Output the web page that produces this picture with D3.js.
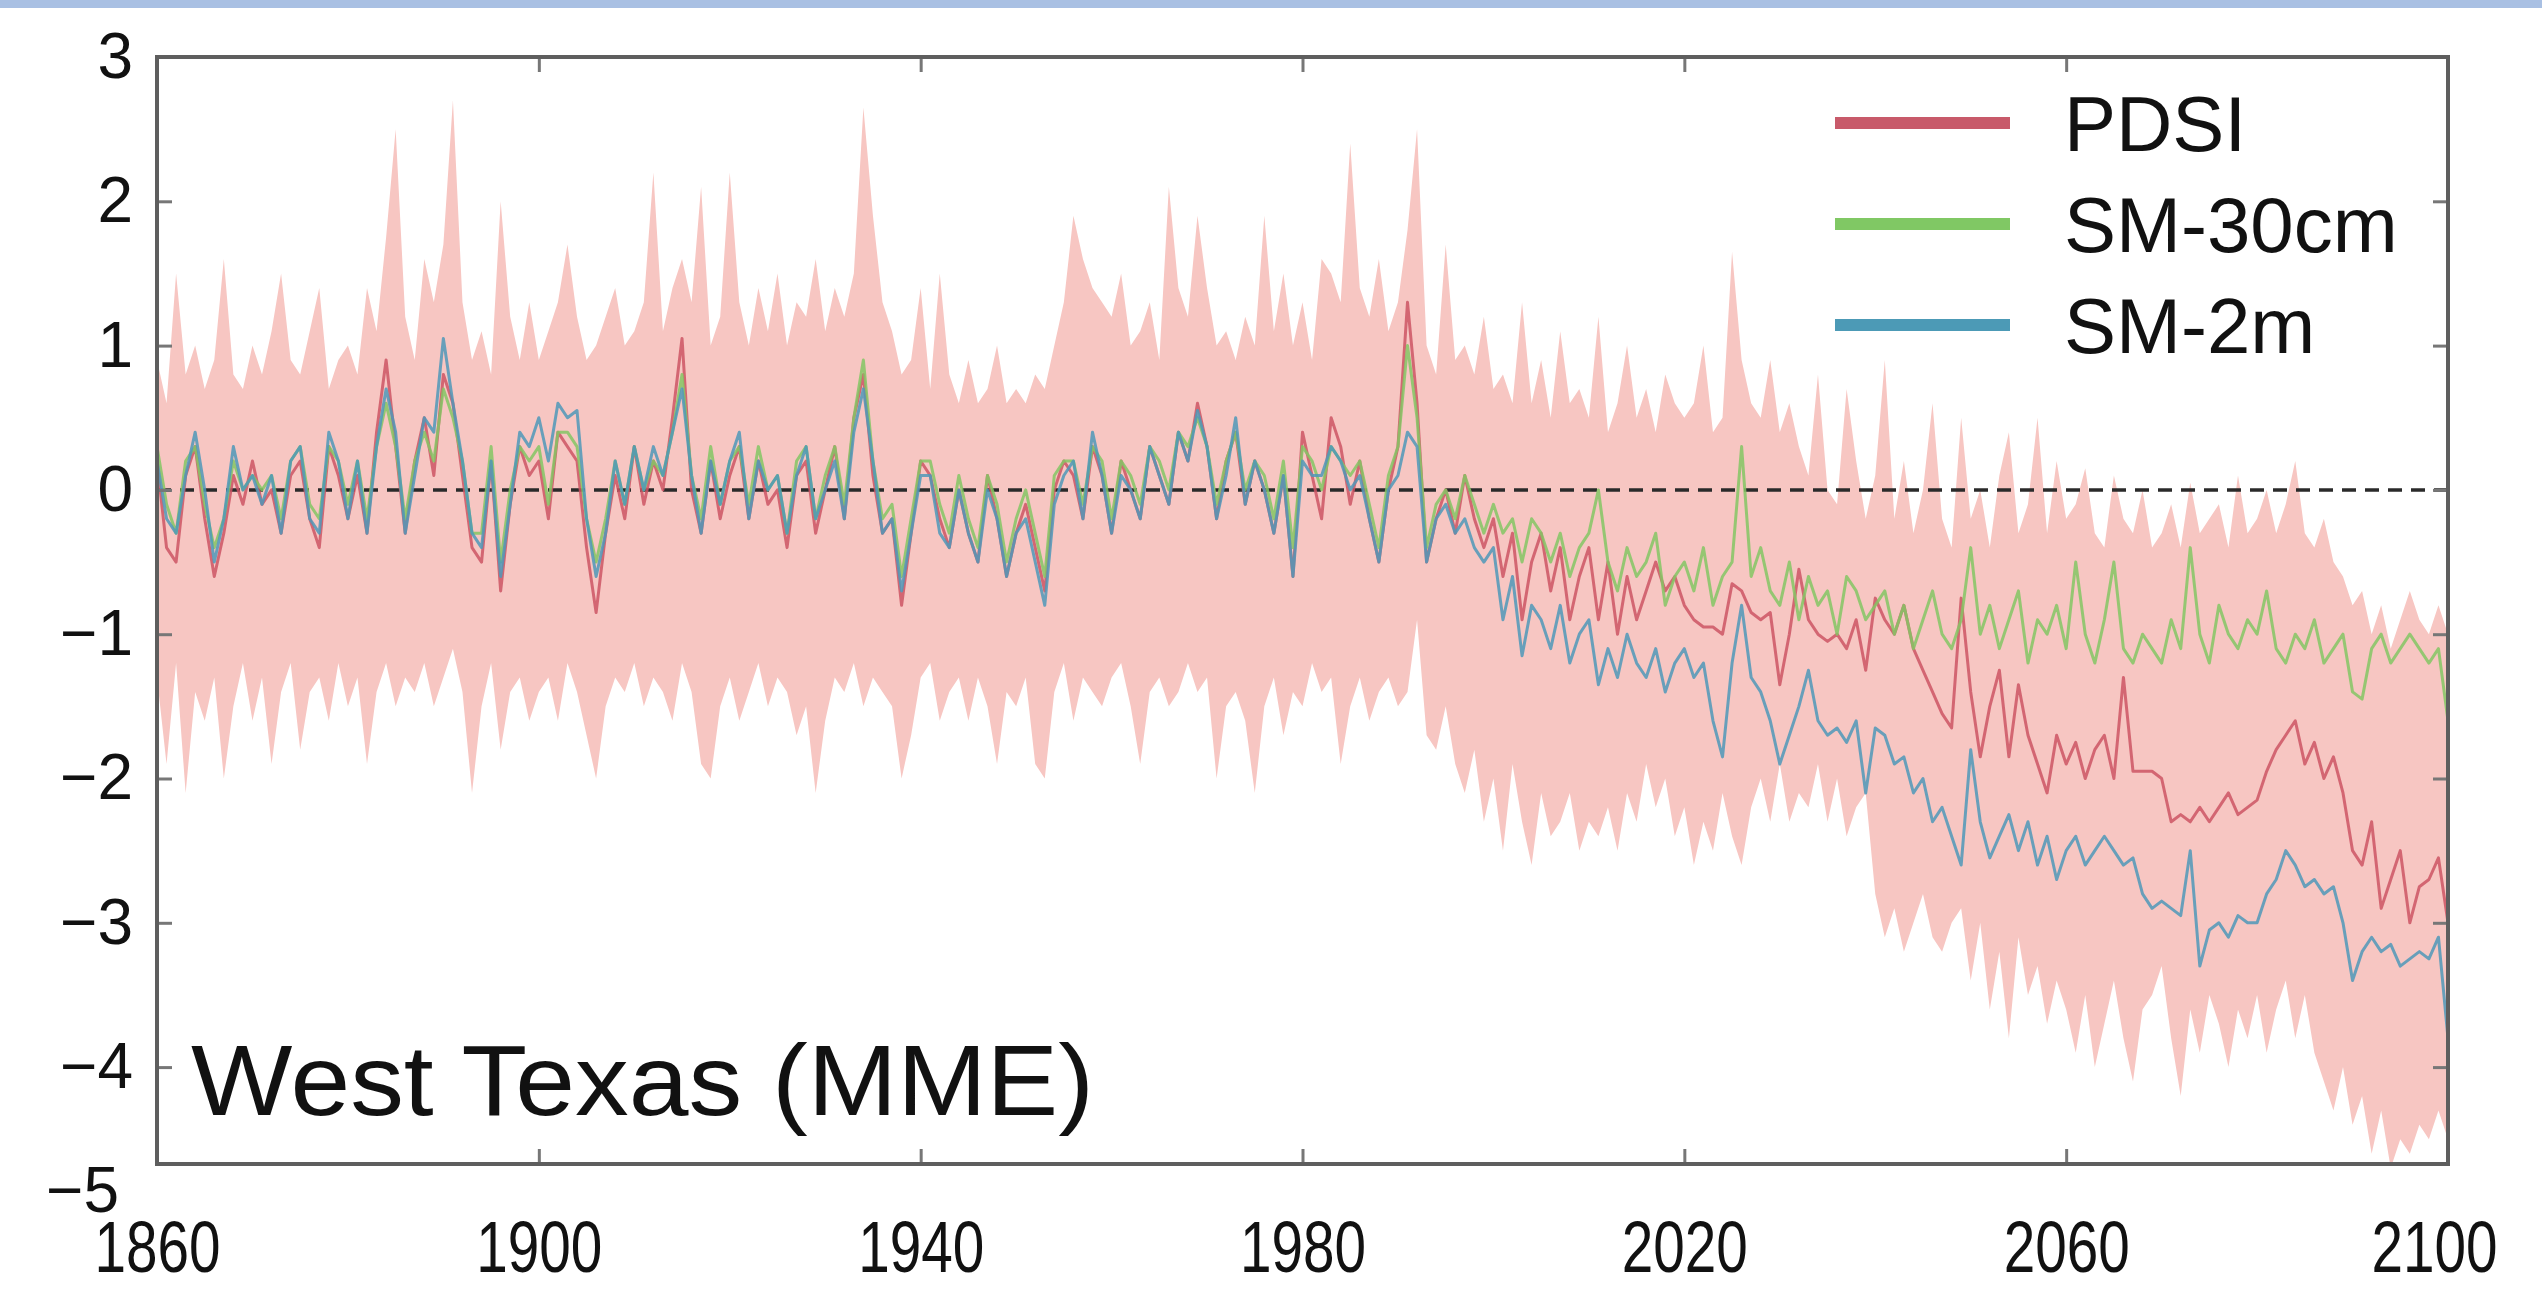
<!DOCTYPE html>
<html>
<head>
<meta charset="utf-8">
<script src="https://cdn.jsdelivr.net/npm/d3@7"></script>
<style>
    body { margin: 0; background: #fff; }
    svg { display: block; }
</style>
</head>
<body>
<svg id="chart" width="2542" height="1291"></svg>
<script>
// 年份 1860-2100
let years = d3.range(1860, 2101)

let pdsi = [
    0.2, -0.4, -0.5, 0.1, 0.3, -0.2, -0.6, -0.3, 0.1, -0.1,
    0.2, -0.1, 0.0, -0.3, 0.1, 0.2, -0.2, -0.4, 0.3, 0.1,
    -0.2, 0.1, -0.3, 0.4, 0.9, 0.3, -0.3, 0.2, 0.5, 0.1,
    0.8, 0.6, 0.1, -0.4, -0.5, 0.2, -0.7, -0.1, 0.3, 0.1,
    0.2, -0.2, 0.4, 0.3, 0.2, -0.4, -0.85, -0.3, 0.1, -0.2,
    0.3, -0.1, 0.2, 0.0, 0.5, 1.05, 0.0, -0.3, 0.2, -0.2,
    0.1, 0.3, -0.2, 0.2, -0.1, 0.0, -0.4, 0.1, 0.2, -0.3,
    0.0, 0.3, -0.2, 0.5, 0.8, 0.1, -0.3, -0.2, -0.8, -0.3,
    0.2, 0.1, -0.2, -0.4, 0.0, -0.3, -0.5, 0.1, -0.2, -0.6,
    -0.3, -0.1, -0.4, -0.7, 0.0, 0.2, 0.1, -0.2, 0.3, 0.1,
    -0.3, 0.2, 0.0, -0.2, 0.3, 0.1, -0.1, 0.4, 0.2, 0.6,
    0.3, -0.2, 0.2, 0.4, -0.1, 0.2, 0.0, -0.3, 0.1, -0.6,
    0.4, 0.1, -0.2, 0.5, 0.3, -0.1, 0.2, -0.2, -0.5, 0.0,
    0.3, 1.3, 0.6, -0.5, -0.2, 0.0, -0.3, 0.1, -0.2, -0.4,
    -0.2, -0.6, -0.3, -0.9, -0.5, -0.3, -0.7, -0.4, -0.9, -0.6,
    -0.4, -0.9, -0.5, -1.0, -0.6, -0.9, -0.7, -0.5, -0.7, -0.6,
    -0.8, -0.9, -0.95, -0.95, -1.0, -0.65, -0.7, -0.85, -0.9, -0.85,
    -1.35, -1.0, -0.55, -0.9, -1.0, -1.05, -1.0, -1.1, -0.9, -1.25,
    -0.75, -0.9, -1.0, -0.8, -1.1, -1.25, -1.4, -1.55, -1.65, -0.75,
    -1.4, -1.85, -1.5, -1.25, -1.85, -1.35, -1.7, -1.9, -2.1, -1.7,
    -1.9, -1.75, -2.0, -1.8, -1.7, -2.0, -1.3, -1.95, -1.95, -1.95,
    -2.0, -2.3, -2.25, -2.3, -2.2, -2.3, -2.2, -2.1, -2.25, -2.2,
    -2.15, -1.95, -1.8, -1.7, -1.6, -1.9, -1.75, -2.0, -1.85, -2.1,
    -2.5, -2.6, -2.3, -2.9, -2.7, -2.5, -3.0, -2.75, -2.7, -2.55,
    -3.0
]

let sm30 = [
    0.3, -0.1, -0.3, 0.2, 0.3, -0.1, -0.4, -0.2, 0.2, 0.0,
    0.1, 0.0, 0.1, -0.2, 0.2, 0.3, -0.1, -0.2, 0.3, 0.2,
    -0.1, 0.2, -0.2, 0.3, 0.6, 0.3, -0.2, 0.2, 0.4, 0.2,
    0.7, 0.5, 0.2, -0.3, -0.3, 0.3, -0.5, 0.0, 0.3, 0.2,
    0.3, -0.1, 0.4, 0.4, 0.3, -0.2, -0.5, -0.2, 0.2, -0.1,
    0.3, 0.0, 0.2, 0.1, 0.4, 0.8, 0.1, -0.2, 0.3, -0.1,
    0.2, 0.3, -0.1, 0.3, 0.0, 0.1, -0.3, 0.2, 0.3, -0.2,
    0.1, 0.3, -0.1, 0.5, 0.9, 0.2, -0.2, -0.1, -0.6, -0.2,
    0.2, 0.2, -0.1, -0.3, 0.1, -0.2, -0.4, 0.1, -0.1, -0.5,
    -0.2, 0.0, -0.3, -0.6, 0.1, 0.2, 0.2, -0.1, 0.3, 0.2,
    -0.2, 0.2, 0.1, -0.1, 0.3, 0.2, 0.0, 0.4, 0.3, 0.5,
    0.3, -0.1, 0.2, 0.4, 0.0, 0.2, 0.1, -0.2, 0.2, -0.4,
    0.3, 0.2, 0.0, 0.3, 0.2, 0.1, 0.2, -0.1, -0.4, 0.1,
    0.3, 1.0, 0.5, -0.4, -0.1, 0.0, -0.2, 0.1, -0.1, -0.3,
    -0.1, -0.3, -0.2, -0.5, -0.2, -0.3, -0.5, -0.3, -0.6, -0.4,
    -0.3, 0.0, -0.5, -0.7, -0.4, -0.6, -0.5, -0.3, -0.8, -0.6,
    -0.5, -0.7, -0.4, -0.8, -0.6, -0.5, 0.3, -0.6, -0.4, -0.7,
    -0.8, -0.5, -0.9, -0.6, -0.8, -0.7, -1.0, -0.6, -0.7, -0.9,
    -0.8, -0.7, -1.0, -0.8, -1.1, -0.9, -0.7, -1.0, -1.1, -0.9,
    -0.4, -1.0, -0.8, -1.1, -0.9, -0.7, -1.2, -0.9, -1.0, -0.8,
    -1.1, -0.5, -1.0, -1.2, -0.9, -0.5, -1.1, -1.2, -1.0, -1.1,
    -1.2, -0.9, -1.1, -0.4, -1.0, -1.2, -0.8, -1.0, -1.1, -0.9,
    -1.0, -0.7, -1.1, -1.2, -1.0, -1.1, -0.9, -1.2, -1.1, -1.0,
    -1.4, -1.45, -1.1, -1.0, -1.2, -1.1, -1.0, -1.1, -1.2, -1.1,
    -1.6
]

let sm2 = [
    0.2, -0.2, -0.3, 0.1, 0.4, 0.0, -0.5, -0.2, 0.3, 0.0,
    0.1, -0.1, 0.1, -0.3, 0.2, 0.3, -0.2, -0.3, 0.4, 0.2,
    -0.2, 0.2, -0.3, 0.3, 0.7, 0.4, -0.3, 0.1, 0.5, 0.4,
    1.05, 0.6, 0.2, -0.3, -0.4, 0.2, -0.6, -0.1, 0.4, 0.3,
    0.5, 0.2, 0.6, 0.5, 0.55, -0.2, -0.6, -0.3, 0.2, -0.1,
    0.3, 0.0, 0.3, 0.1, 0.4, 0.7, 0.1, -0.3, 0.2, -0.1,
    0.2, 0.4, -0.2, 0.2, 0.0, 0.1, -0.3, 0.1, 0.3, -0.2,
    0.0, 0.2, -0.2, 0.4, 0.7, 0.2, -0.3, -0.2, -0.7, -0.3,
    0.1, 0.1, -0.3, -0.4, 0.0, -0.3, -0.5, 0.0, -0.2, -0.6,
    -0.3, -0.2, -0.5, -0.8, -0.1, 0.1, 0.2, -0.2, 0.4, 0.1,
    -0.3, 0.1, 0.0, -0.2, 0.3, 0.1, -0.1, 0.4, 0.2, 0.55,
    0.3, -0.2, 0.1, 0.5, -0.1, 0.2, 0.0, -0.3, 0.1, -0.6,
    0.2, 0.1, 0.1, 0.3, 0.2, 0.0, 0.1, -0.2, -0.5, 0.0,
    0.1, 0.4, 0.3, -0.5, -0.2, -0.1, -0.3, -0.2, -0.4, -0.5,
    -0.4, -0.9, -0.6, -1.15, -0.8, -0.9, -1.1, -0.8, -1.2, -1.0,
    -0.9, -1.35, -1.1, -1.3, -1.0, -1.2, -1.3, -1.1, -1.4, -1.2,
    -1.1, -1.3, -1.2, -1.6, -1.85, -1.2, -0.8, -1.3, -1.4, -1.6,
    -1.9, -1.7, -1.5, -1.25, -1.6, -1.7, -1.65, -1.75, -1.6, -2.1,
    -1.65, -1.7, -1.9, -1.85, -2.1, -2.0, -2.3, -2.2, -2.4, -2.6,
    -1.8, -2.3, -2.55, -2.4, -2.25, -2.5, -2.3, -2.6, -2.4, -2.7,
    -2.5, -2.4, -2.6, -2.5, -2.4, -2.5, -2.6, -2.55, -2.8, -2.9,
    -2.85, -2.9, -2.95, -2.5, -3.3, -3.05, -3.0, -3.1, -2.95, -3.0,
    -3.0, -2.8, -2.7, -2.5, -2.6, -2.75, -2.7, -2.8, -2.75, -3.0,
    -3.4, -3.2, -3.1, -3.2, -3.15, -3.3, -3.25, -3.2, -3.25, -3.1,
    -3.8
]

// 模式集合范围（上界 / 下界）
let bandHigh = [
    0.9, 0.6, 1.5, 0.8, 1.0, 0.7, 0.9, 1.6, 0.8, 0.7,
    1.0, 0.8, 1.1, 1.5, 0.9, 0.8, 1.1, 1.4, 0.7, 0.9,
    1.0, 0.8, 1.4, 1.1, 1.75, 2.5, 1.2, 0.9, 1.6, 1.3,
    1.7, 2.7, 1.3, 0.9, 1.1, 0.8, 2.0, 1.2, 0.9, 1.3,
    0.9, 1.1, 1.3, 1.7, 1.2, 0.9, 1.0, 1.2, 1.4, 1.0,
    1.1, 1.3, 2.2, 1.1, 1.4, 1.6, 1.3, 2.1, 1.0, 1.2,
    2.2, 1.3, 1.0, 1.4, 1.1, 1.5, 1.0, 1.3, 1.2, 1.6,
    1.1, 1.4, 1.2, 1.5, 2.65, 1.9, 1.3, 1.1, 0.8, 0.9,
    1.4, 0.7, 1.5, 0.8, 0.6, 0.9, 0.6, 0.7, 1.0, 0.6,
    0.7, 0.6, 0.8, 0.7, 1.0, 1.3, 1.9, 1.6, 1.4, 1.3,
    1.2, 1.5, 1.0, 1.1, 1.3, 0.9, 2.1, 1.4, 1.2, 1.9,
    1.4, 1.0, 1.1, 0.9, 1.2, 1.0, 1.9, 1.1, 1.5, 1.0,
    1.3, 0.9, 1.6, 1.5, 1.3, 2.4, 1.4, 1.2, 1.6, 1.1,
    1.3, 1.8, 2.5, 1.0, 0.8, 1.7, 0.9, 1.0, 0.8, 1.2,
    0.7, 0.8, 0.6, 1.3, 0.6, 0.9, 0.5, 1.1, 0.6, 0.7,
    0.5, 1.2, 0.4, 0.6, 1.0, 0.5, 0.7, 0.4, 0.8, 0.6,
    0.5, 0.6, 1.0, 0.4, 0.5, 1.65, 0.9, 0.6, 0.5, 0.9,
    0.4, 0.6, 0.3, 0.1, 0.8, 0.0, -0.1, 0.7, 0.2, -0.2,
    0.1, 0.9, -0.2, 0.2, -0.3, 0.0, 0.6, -0.2, -0.4, 0.5,
    -0.2, 0.0, -0.4, 0.1, 0.4, -0.3, -0.1, 0.5, -0.3, 0.2,
    -0.2, -0.1, 0.15, -0.3, -0.4, 0.1, -0.2, -0.3, 0.0, -0.4,
    -0.3, -0.1, -0.4, 0.05, -0.3, -0.2, -0.1, -0.4, 0.1, -0.3,
    -0.2, 0.0, -0.3, -0.1, 0.2, -0.3, -0.4, -0.2, -0.5, -0.6,
    -0.8, -0.7, -1.0, -0.8, -1.1, -0.9, -0.7, -0.9, -1.0, -0.8,
    -1.0
]

let bandLow = [
    -1.3, -1.9, -1.2, -2.1, -1.4, -1.6, -1.3, -2.0, -1.5, -1.2,
    -1.6, -1.3, -1.9, -1.4, -1.2, -1.8, -1.4, -1.3, -1.6, -1.2,
    -1.5, -1.3, -1.9, -1.4, -1.2, -1.5, -1.3, -1.4, -1.2, -1.5,
    -1.3, -1.1, -1.4, -2.1, -1.5, -1.2, -1.8, -1.4, -1.3, -1.6,
    -1.4, -1.3, -1.6, -1.2, -1.4, -1.7, -2.0, -1.5, -1.3, -1.4,
    -1.2, -1.5, -1.3, -1.4, -1.6, -1.2, -1.4, -1.9, -2.0, -1.5,
    -1.3, -1.6, -1.4, -1.2, -1.5, -1.3, -1.4, -1.7, -1.5, -2.1,
    -1.6, -1.3, -1.4, -1.2, -1.5, -1.3, -1.4, -1.5, -2.0, -1.7,
    -1.3, -1.2, -1.6, -1.4, -1.3, -1.6, -1.3, -1.5, -1.9, -1.4,
    -1.5, -1.3, -1.9, -2.0, -1.4, -1.2, -1.6, -1.3, -1.4, -1.5,
    -1.3, -1.2, -1.5, -1.9, -1.4, -1.3, -1.5, -1.4, -1.2, -1.4,
    -1.3, -2.0, -1.5, -1.4, -1.6, -2.1, -1.5, -1.3, -1.7, -1.4,
    -1.5, -1.2, -1.4, -1.3, -1.9, -1.5, -1.3, -1.6, -1.4, -1.3,
    -1.5, -1.4, -0.9, -1.7, -1.8, -1.5, -1.9, -2.1, -1.8, -2.3,
    -2.0, -2.5, -1.9, -2.3, -2.6, -2.1, -2.4, -2.3, -2.1, -2.5,
    -2.3, -2.4, -2.2, -2.5, -2.1, -2.3, -1.9, -2.2, -2.0, -2.4,
    -2.2, -2.6, -2.3, -2.5, -2.1, -2.4, -2.6, -2.2, -2.0, -2.3,
    -1.9, -2.3, -2.1, -2.2, -1.9, -2.3, -2.0, -2.4, -2.2, -2.1,
    -2.8, -3.1, -2.9, -3.2, -3.0, -2.8, -3.1, -3.2, -3.0, -2.9,
    -3.4, -3.0, -3.6, -3.2, -3.8, -3.1, -3.5, -3.3, -3.7, -3.4,
    -3.6, -3.9, -3.5, -4.0, -3.7, -3.4, -3.8, -4.1, -3.6, -3.5,
    -3.3, -3.8, -4.2, -3.6, -3.9, -3.5, -3.7, -4.0, -3.6, -3.8,
    -3.5, -3.9, -3.6, -3.4, -3.8, -3.5, -3.9, -4.1, -4.3, -4.0,
    -4.4, -4.2, -4.6, -4.3, -4.7, -4.5, -4.6, -4.4, -4.5, -4.3,
    -4.5
]

let seriesNames = ["PDSI", "SM-30cm", "SM-2m"]
let seriesValues = [pdsi, sm30, sm2]
let seriesColors = ["#cc5564", "#84c664", "#4f98b8"]
let legendColors = ["#c85a6a", "#80c864", "#4c9ab6"]

let xTicks = [1860, 1900, 1940, 1980, 2020, 2060, 2100]
let yTicks = [3, 2, 1, 0, -1, -2, -3, -4, -5]
let regionTitle = "West Texas (MME)"

let svg = d3.select("#chart")
let margin = { left: 157, right: 94, top: 57, bottom: 127 }
let width = 2542, height = 1291
let plotW = width - margin.left - margin.right
let plotH = height - margin.top - margin.bottom

// 顶部蓝色条
svg.append("rect")
    .attr("x", 0).attr("y", 0)
    .attr("width", width).attr("height", 8)
    .attr("fill", "#a9c0e3")

let xScale = d3.scaleLinear().domain([1860, 2100]).range([margin.left, margin.left + plotW])
// y 轴 -5 落在框外（原图如此）
let yScale = d3.scaleLinear().domain([3, -5]).range([margin.top, margin.top + 8 * 144.3])

svg.append("clipPath").attr("id", "plotClip")
    .append("rect")
    .attr("x", margin.left).attr("y", margin.top)
    .attr("width", plotW).attr("height", plotH)

let plot = svg.append("g").attr("clip-path", "url(#plotClip)")

// 阴影范围
let area = d3.area()
    .x((d, i) => xScale(years[i]))
    .y0((d, i) => yScale(bandLow[i]))
    .y1((d, i) => yScale(bandHigh[i]))

plot.append("path")
    .datum(years)
    .attr("d", area)
    .attr("fill", "#f7c6c2")

// 零线
plot.append("line")
    .attr("x1", margin.left).attr("x2", margin.left + plotW)
    .attr("y1", yScale(0)).attr("y2", yScale(0))
    .attr("stroke", "#2a2a2a")
    .attr("stroke-width", 3.5)
    .attr("stroke-dasharray", "14,9")

let line = d3.line()
    .x((d, i) => xScale(years[i]))
    .y(d => yScale(d))

seriesValues.forEach(function (vals, k) {
    plot.append("path")
        .datum(vals)
        .attr("d", line)
        .attr("fill", "none")
        .attr("stroke", seriesColors[k])
        .attr("stroke-width", 3)
        .attr("stroke-opacity", 0.85)
        .attr("stroke-linejoin", "round")
})

// 坐标轴（刻度朝内）
let xAxis = svg.append("g")
    .attr("transform", "translate(0," + (margin.top + plotH) + ")")
    .call(d3.axisBottom(xScale).tickValues(xTicks).tickFormat(d3.format("d")).tickSize(-15).tickPadding(57))
xAxis.select(".domain").remove()
xAxis.selectAll("line").attr("stroke", "#777").attr("stroke-width", 3)
xAxis.selectAll("text")
    .attr("fill", "#111")
    .style("font-family", "'Liberation Sans', Arial, sans-serif")
    .style("font-size", "72px")
    .attr("textLength", 126)
    .attr("lengthAdjust", "spacingAndGlyphs")
// 最右侧标签稍向左，避免贴边
xAxis.selectAll(".tick").filter(d => d == 2100).select("text").attr("x", -14)

let xTop = svg.append("g")
    .attr("transform", "translate(0," + margin.top + ")")
    .call(d3.axisTop(xScale).tickValues(xTicks).tickSize(-15).tickFormat(""))
xTop.select(".domain").remove()
xTop.selectAll("line").attr("stroke", "#777").attr("stroke-width", 3)

let yAxis = svg.append("g")
    .attr("transform", "translate(" + margin.left + ",0)")
    .call(d3.axisLeft(yScale).tickValues(yTicks).tickSize(-15).tickPadding(24))
yAxis.select(".domain").remove()
yAxis.selectAll("line").attr("stroke", "#777").attr("stroke-width", 3)
yAxis.selectAll("text")
    .attr("fill", "#111")
    .style("font-family", "'Liberation Sans', Arial, sans-serif")
    .style("font-size", "64px")
// -5 标签在原图中略高于刻度位置
let lastTick = yAxis.selectAll(".tick").filter(d => d == -5)
lastTick.select("line").remove()
lastTick.select("text").attr("y", -20).attr("x", -38)

let yRight = svg.append("g")
    .attr("transform", "translate(" + (margin.left + plotW) + ",0)")
    .call(d3.axisRight(yScale).tickValues([2, 1, 0, -1, -2, -3, -4]).tickSize(-15).tickFormat(""))
yRight.select(".domain").remove()
yRight.selectAll("line").attr("stroke", "#777").attr("stroke-width", 3)

// 边框
svg.append("rect")
    .attr("x", margin.left).attr("y", margin.top)
    .attr("width", plotW).attr("height", plotH)
    .attr("fill", "none")
    .attr("stroke", "#5e5e5e")
    .attr("stroke-width", 4)

// 图例
let legend = svg.append("g").attr("transform", "translate(1835,123)")
seriesNames.forEach(function (name, k) {
    legend.append("line")
        .attr("x1", 0).attr("x2", 175)
        .attr("y1", k * 101).attr("y2", k * 101)
        .attr("stroke", legendColors[k])
        .attr("stroke-width", 12)
    legend.append("text")
        .attr("x", 229).attr("y", k * 101)
        .attr("dy", "0.36em")
        .attr("fill", "#111")
        .style("font-family", "'Liberation Sans', Arial, sans-serif")
        .style("font-size", "78px")
        .text(name)
})

// 区域标题
svg.append("text")
    .attr("x", 191).attr("y", 1115)
    .attr("fill", "#111")
    .style("font-family", "'Liberation Sans', Arial, sans-serif")
    .style("font-size", "100px")
    .attr("textLength", 903)
    .attr("lengthAdjust", "spacingAndGlyphs")
    .text(regionTitle)
</script>
</body>
</html>
